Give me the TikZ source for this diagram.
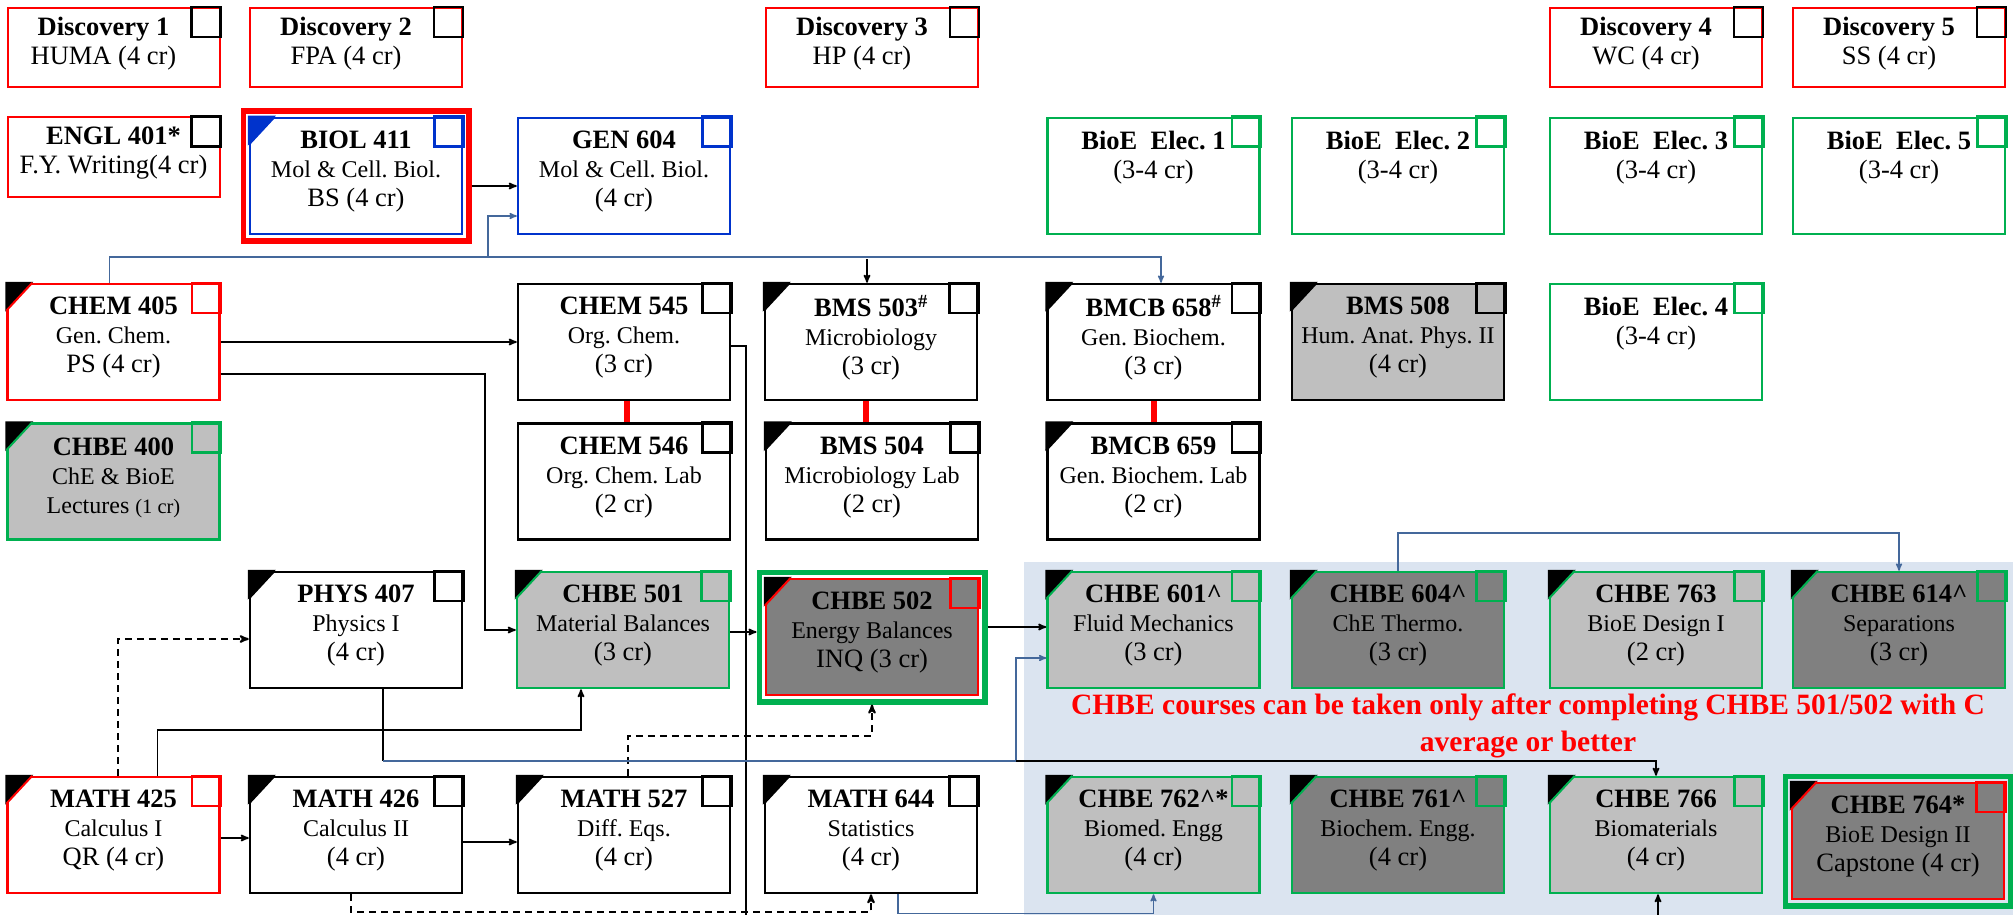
\documentclass[tikz,border=0pt]{standalone}
\usepackage{fontspec}
\setmainfont{Liberation Serif}
\usepackage{tikz}
\usetikzlibrary{arrows}
\usetikzlibrary{fit}
\frenchspacing
\definecolor{bioegreen}{RGB}{0,176,80}
\definecolor{biolblue}{RGB}{0,51,204}
\definecolor{linkblue}{RGB}{68,104,155}
\definecolor{chbelight}{RGB}{191,191,191}
\definecolor{chbedark}{RGB}{128,128,128}
\definecolor{chbeback}{RGB}{219,228,240}
\newlength{\pxunit}
\setlength{\pxunit}{1pt}
\tikzstyle{nodestyle}=[draw, rectangle, line width=2.5\pxunit, inner sep=0pt, minimum width=212\pxunit, minimum height=116\pxunit]
\tikzstyle{blackcourse}=[nodestyle, draw=black]
\tikzstyle{redcourse}=[nodestyle, draw=red]
\tikzstyle{greencourse}=[nodestyle, draw=bioegreen]
\tikzstyle{bluecourse}=[nodestyle, draw=biolblue]
\tikzstyle{discovery}=[nodestyle, draw=red, line width=2\pxunit, minimum height=79\pxunit]
\tikzstyle{graylight}=[fill=chbelight]
\tikzstyle{graydark}=[fill=chbedark]
\tikzstyle{outerframe}=[draw, line width=5.5\pxunit, inner sep=5.5\pxunit]
\tikzstyle{tickbox}=[line width=2.5\pxunit]
\tikzstyle{coursetext}=[align=center, font=\fontsize{26.5}{29}\selectfont]
\tikzstyle{notetext}=[align=center, text=red, font=\bfseries\fontsize{29.5}{37}\selectfont]
\tikzstyle{edgestyle}=[draw, line width=1.7\pxunit, ->, >=stealth']
\tikzstyle{dashedge}=[edgestyle, line width=2\pxunit, dash pattern=on 7\pxunit off 5\pxunit]
\tikzstyle{blueedge}=[edgestyle, draw=linkblue, line width=1.5\pxunit]
\tikzstyle{plainline}=[draw, line width=1.3\pxunit]
\tikzstyle{labbar}=[draw=red, line width=6\pxunit]
\newcommand{\cdesc}[1]{{\fontsize{24}{29}\selectfont #1}}
\newcommand{\course}[6]{\node [#1] (#3) at (#4) {};
  \draw [tickbox, #2] (#3.north east) rectangle ++(-29,-30);
  \node [coursetext] (#3-txt) at ([shift={(#5)}]#3.center) {#6};}
\newcommand{\snip}[3][black]{\fill [#1] ([shift={(-1,1)}]#2.north west) -- ++(28,0) -- ++(-28,-30) -- cycle;
  \draw [line width=2\pxunit, #3] ([xshift=26\pxunit]#2.north west) -- ([yshift=-28\pxunit]#2.north west);}

\begin{document}
\begin{tikzpicture}[x=\pxunit, y=\pxunit]
\useasboundingbox (0,0) rectangle (2013,-915);
\fill [chbeback] (1024,-562) rectangle (2013,-915);

% discovery row
\course{discovery}{black}{disc1}{113.5,-47.5}{-10,4}{\textbf{Discovery 1}\\HUMA (4 cr)}
\course{discovery}{black}{disc2}{356,-47.5}{-10,4}{\textbf{Discovery 2}\\FPA (4 cr)}
\course{discovery}{black}{disc3}{872,-47.5}{-10,4}{\textbf{Discovery 3}\\HP (4 cr)}
\course{discovery}{black}{disc4}{1656,-47.5}{-10,4}{\textbf{Discovery 4}\\WC (4 cr)}
\course{discovery}{black}{disc5}{1899,-47.5}{-10,4}{\textbf{Discovery 5}\\SS (4 cr)}
\course{discovery}{black}{engl401}{113.5,-157}{0,4}{\textbf{ENGL 401*}\\F.Y. Writing(4 cr)}

% biology and electives
\course{bluecourse}{biolblue}{biol411}{356,-176}{0,4}{\textbf{BIOL 411}\\\cdesc{Mol \& Cell. Biol.}\\BS (4 cr)}
\snip[biolblue]{biol411}{biolblue}
\node [outerframe, draw=red, fit=(biol411)] (biol411-frame) {};
\course{bluecourse}{biolblue}{gen604}{624,-176}{0,4}{\textbf{GEN 604}\\\cdesc{Mol \& Cell. Biol.}\\(4 cr)}
\course{greencourse}{bioegreen}{bioe1}{1153.5,-176}{0,18}{\textbf{BioE\ \ Elec. 1}\\(3-4 cr)}
\course{greencourse}{bioegreen}{bioe2}{1398,-176}{0,18}{\textbf{BioE\ \ Elec. 2}\\(3-4 cr)}
\course{greencourse}{bioegreen}{bioe3}{1656,-176}{0,18}{\textbf{BioE\ \ Elec. 3}\\(3-4 cr)}
\course{greencourse}{bioegreen}{bioe5}{1899,-176}{0,18}{\textbf{BioE\ \ Elec. 5}\\(3-4 cr)}

% chemistry row
\course{redcourse}{red}{chem405}{113.5,-342}{0,4}{\textbf{CHEM 405}\\\cdesc{Gen. Chem.}\\PS (4 cr)}
\snip{chem405}{red}
\course{blackcourse}{black}{chem545}{624,-342}{0,4}{\textbf{CHEM 545}\\\cdesc{Org. Chem.}\\(3 cr)}
\course{blackcourse}{black}{bms503}{871,-342}{0,4}{\textbf{BMS 503\textsuperscript{\#}}\\\cdesc{Microbiology}\\(3 cr)}
\snip{bms503}{black}
\course{blackcourse}{black}{bmcb658}{1153.5,-342}{0,4}{\textbf{BMCB 658\textsuperscript{\#}}\\\cdesc{Gen. Biochem.}\\(3 cr)}
\snip{bmcb658}{black}
\course{blackcourse, graylight}{black}{bms508}{1398,-342}{0,4}{\textbf{BMS 508}\\\cdesc{Hum. Anat. Phys. II}\\(4 cr)}
\snip{bms508}{black}
\course{greencourse}{bioegreen}{bioe4}{1656,-342}{0,18}{\textbf{BioE\ \ Elec. 4}\\(3-4 cr)}

% labs
\course{greencourse, graylight}{bioegreen}{chbe400}{113.5,-481.5}{0,4}{\textbf{CHBE 400}\\\cdesc{ChE \& BioE}\\\cdesc{Lectures {\fontsize{20.5}{29}\selectfont(1 cr)}}}
\snip{chbe400}{bioegreen}
\course{blackcourse}{black}{chem546}{624,-481.5}{0,4}{\textbf{CHEM 546}\\\cdesc{Org. Chem. Lab}\\(2 cr)}
\course{blackcourse}{black}{bms504}{872,-481.5}{0,4}{\textbf{BMS 504}\\\cdesc{Microbiology Lab}\\(2 cr)}
\snip{bms504}{black}
\course{blackcourse}{black}{bmcb659}{1153.5,-481.5}{0,4}{\textbf{BMCB 659}\\\cdesc{Gen. Biochem. Lab}\\(2 cr)}
\snip{bmcb659}{black}

% balances and core row
\course{blackcourse}{black}{phys407}{356,-630}{0,4}{\textbf{PHYS 407}\\\cdesc{Physics I}\\(4 cr)}
\snip{phys407}{black}
\course{greencourse, graylight}{bioegreen}{chbe501}{623,-630}{0,4}{\textbf{CHBE 501}\\\cdesc{Material Balances}\\(3 cr)}
\snip{chbe501}{bioegreen}
\course{redcourse, graydark}{red}{chbe502}{872,-637}{0,4}{\textbf{CHBE 502}\\\cdesc{Energy Balances}\\INQ (3 cr)}
\snip{chbe502}{red}
\node [outerframe, draw=bioegreen, fit=(chbe502)] (chbe502-frame) {};
\course{greencourse, graylight}{bioegreen}{chbe601}{1153.5,-630}{0,4}{\textbf{CHBE 601\textasciicircum}\\\cdesc{Fluid Mechanics}\\(3 cr)}
\snip{chbe601}{bioegreen}
\course{greencourse, graydark}{bioegreen}{chbe604}{1398,-630}{0,4}{\textbf{CHBE 604\textasciicircum}\\\cdesc{ChE Thermo.}\\(3 cr)}
\snip{chbe604}{bioegreen}
\course{greencourse, graylight}{bioegreen}{chbe763}{1656,-630}{0,4}{\textbf{CHBE 763}\\\cdesc{BioE Design I}\\(2 cr)}
\snip{chbe763}{bioegreen}
\course{greencourse, graydark}{bioegreen}{chbe614}{1899,-630}{0,4}{\textbf{CHBE 614\textasciicircum}\\\cdesc{Separations}\\(3 cr)}
\snip{chbe614}{bioegreen}

\node [notetext] (chbenote) at (1528,-726) {CHBE courses can be taken only after completing CHBE 501/502 with C\\average or better};

% math row
\course{redcourse}{red}{math425}{113.5,-835}{0,4}{\textbf{MATH 425}\\\cdesc{Calculus I}\\QR (4 cr)}
\snip{math425}{red}
\course{blackcourse}{black}{math426}{356,-835}{0,4}{\textbf{MATH 426}\\\cdesc{Calculus II}\\(4 cr)}
\snip{math426}{black}
\course{blackcourse}{black}{math527}{624,-835}{0,4}{\textbf{MATH 527}\\\cdesc{Diff. Eqs.}\\(4 cr)}
\snip{math527}{black}
\course{blackcourse}{black}{math644}{871,-835}{0,4}{\textbf{MATH 644}\\\cdesc{Statistics}\\(4 cr)}
\snip{math644}{black}
\course{greencourse, graylight}{bioegreen}{chbe762}{1153.5,-835}{0,4}{\textbf{CHBE 762\textasciicircum*}\\\cdesc{Biomed. Engg}\\(4 cr)}
\snip{chbe762}{bioegreen}
\course{greencourse, graydark}{bioegreen}{chbe761}{1398,-835}{0,4}{\textbf{CHBE 761\textasciicircum}\\\cdesc{Biochem. Engg.}\\(4 cr)}
\snip{chbe761}{bioegreen}
\course{greencourse, graylight}{bioegreen}{chbe766}{1656,-835}{0,4}{\textbf{CHBE 766}\\\cdesc{Biomaterials}\\(4 cr)}
\snip{chbe766}{bioegreen}
\course{redcourse, graydark}{red}{chbe764}{1898,-841}{0,4}{\textbf{CHBE 764*}\\\cdesc{BioE Design II}\\Capstone (4 cr)}
\snip{chbe764}{red}
\node [outerframe, draw=bioegreen, fit=(chbe764)] (chbe764-frame) {};

% bends and loose ends
\coordinate (gentap) at (488,-257);
\coordinate (bmstap) at (867,-259);
\coordinate (bmcbtap) at (1161,-257);
\coordinate (chemout) at (746,-915);
\coordinate (physbend) at (383,-761);
\coordinate (physjoin) at (1016,-761);
\coordinate (pagebottom) at (1658,-915);

% prerequisites
\draw [edgestyle] ([yshift=-10\pxunit]biol411-frame.east) -- ([yshift=-10\pxunit]biol411-frame.east -| gen604.west);
\draw [blueedge] ([xshift=-4\pxunit]chem405.north) |- (bmcbtap) -- (bmcbtap |- bmcb658.north);
\draw [blueedge] (gentap) |- ([yshift=-40\pxunit]gen604.west);
\draw [edgestyle] (bmstap) -- (bmstap |- bms503.north);
\draw [edgestyle] (chem405) -- (chem545);
\draw [edgestyle] ([yshift=-32\pxunit]chem405.east) -| ([xshift=-31\pxunit]chbe501.west) -- (chbe501.west);
\draw [plainline] ([yshift=-4\pxunit]chem545.east) -| (chemout);
\draw [labbar] ([xshift=3\pxunit]chem545.south) -- ([xshift=3\pxunit]chem546.north);
\draw [labbar] ([xshift=-5\pxunit]bms503.south) -- ([xshift=-5\pxunit]bms503.south |- bms504.north);
\draw [labbar] (bmcb658.south) -- (bmcb659.north);
\draw [dashedge] ([xshift=4\pxunit]math425.north) |- ([yshift=-9\pxunit]phys407.west);
\draw [edgestyle] ([xshift=44\pxunit]math425.north) |- ([xshift=-42\pxunit, yshift=-41\pxunit]chbe501.south) -- ([xshift=-42\pxunit]chbe501.south);
\draw [edgestyle] ([yshift=-3\pxunit]math425.east) -- ([yshift=-3\pxunit]math426.west);
\draw [edgestyle] ([yshift=-7\pxunit]math426.east) -- ([yshift=-7\pxunit]math426.east -| math527.west);
\draw [dashedge] ([xshift=-5\pxunit]math426.south) |- ([yshift=-18\pxunit]math644.south) -- (math644.south);
\draw [dashedge] ([xshift=4\pxunit]math527.north) |- ([yshift=-31\pxunit]chbe502-frame.south) -- (chbe502-frame.south);
\draw [edgestyle] ([yshift=-2\pxunit]chbe501.east) -- ([yshift=-2\pxunit]chbe501.east -| chbe502-frame.west);
\draw [edgestyle] ([yshift=3\pxunit]chbe601.west -| chbe502-frame.east) -- ([yshift=3\pxunit]chbe601.west);
\draw [plainline] ([xshift=27\pxunit]phys407.south) -- (physbend);
\draw [blueedge] (physbend) -- (physjoin) |- ([yshift=-28\pxunit]chbe601.west);
\draw [edgestyle] (physjoin) -| (chbe766.north);
\draw [blueedge] ([xshift=27\pxunit]math644.south) |- ([yshift=-19\pxunit]chbe762.south) -- (chbe762.south);
\draw [blueedge] (chbe604.north) |- ([yshift=38\pxunit]chbe614.north) -- (chbe614.north);
\draw [edgestyle] (pagebottom) -- (pagebottom |- chbe766.south);
\end{tikzpicture}
\end{document}
